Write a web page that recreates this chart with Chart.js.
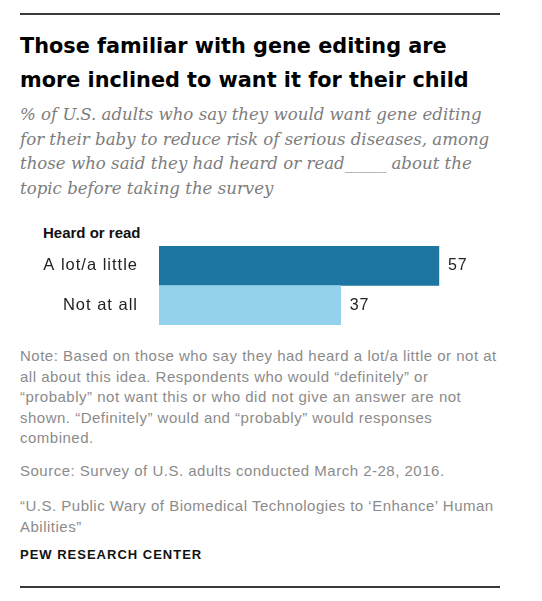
<!DOCTYPE html>
<html>
<head>
<meta charset="utf-8">
<script src="https://cdn.jsdelivr.net/npm/chart.js@4"></script>
<style>
  body { margin: 0; width: 542px; height: 601px; background: #fff; position: relative; overflow: hidden; }
  .rule { position: absolute; left: 20px; width: 480px; height: 0; border-top: 2px solid #3a3a3a; }
  .txt { position: absolute; left: 20px; white-space: nowrap; }
  #title { top: 29px; font: bold 20.8px "DejaVu Sans", sans-serif; line-height: 34px; color: #000; }
  #sub { top: 103px; font: italic 16.6px "DejaVu Serif", serif; line-height: 24.7px; color: #7d7d7d; }
  #head { left: 43px; top: 224px; font: bold 15px "Liberation Sans", sans-serif; color: #111; }
  #chartbox { position: absolute; left: 0; top: 246px; width: 542px; height: 79px; }
  .note { font: 15px "Liberation Sans", sans-serif; letter-spacing: 0.5px; color: #8b8b8b; }
  #notes { top: 346px; line-height: 20.5px; }
  #src { top: 462px; }
  #quote { top: 496px; line-height: 20.5px; }
  #pew { top: 547px; font: bold 13px "Liberation Sans", sans-serif; letter-spacing: 1px; color: #111; }
</style>
</head>
<body>
<div class="rule" style="top:13px"></div>
<div class="txt" id="title">Those familiar with gene editing are<br>more inclined to want it for their child</div>
<div class="txt" id="sub">% of U.S. adults who say they would want gene editing<br>for their baby to reduce risk of serious diseases, among<br>those who said they had heard or read_____ about the<br>topic before taking the survey</div>
<div class="txt" id="head">Heard or read</div>
<div id="chartbox"><canvas id="chart"></canvas></div>
<div class="txt note" id="notes">Note: Based on those who say they had heard a lot/a little or not at<br>all about this idea. Respondents who would “definitely” or<br>“probably” not want this or who did not give an answer are not<br>shown. “Definitely” would and “probably” would responses<br>combined.</div>
<div class="txt note" id="src">Source: Survey of U.S. adults conducted March 2-28, 2016.</div>
<div class="txt note" id="quote">“U.S. Public Wary of Biomedical Technologies to ‘Enhance’ Human<br>Abilities”</div>
<div class="txt" id="pew">PEW RESEARCH CENTER</div>
<div class="rule" style="top:586px"></div>

<script>
const categories = ["A lot/a little", "Not at all"];
const values = [57, 37];
const barColors = ["#1c76a1", "#93d1ec"];

// category names and values drawn next to the bars
const barText = {
  id: "barText",
  afterDatasetsDraw: (chart) => {
    const ctx = chart.ctx;
    const yScale = chart.scales.y;
    ctx.save();
    ctx.font = "16.5px 'Liberation Sans', sans-serif";
    ctx.letterSpacing = "1px";
    ctx.fillStyle = "#222";
    ctx.textBaseline = "middle";
    categories.forEach((name, i) => {
      ctx.textAlign = "right";
      ctx.fillText(name, chart.chartArea.left - 21, yScale.getPixelForValue(i));
    });
    ctx.font = "16px 'Liberation Sans', sans-serif";
    ctx.textAlign = "left";
    chart.getDatasetMeta(0).data.forEach((bar, i) => {
      ctx.fillText(values[i], bar.x + 9, bar.y);
    });
    ctx.restore();
  },
};

const ctx = document.getElementById("chart").getContext("2d");
new Chart(ctx, {
  type: "bar",
  data: {
    labels: categories,
    datasets: [{ data: values, backgroundColor: barColors, barPercentage: 1, categoryPercentage: 1 }],
  },
  options: {
    indexAxis: "y",
    responsive: true,
    maintainAspectRatio: false,
    animation: false,
    layout: { padding: { left: 159, right: 0, top: 0, bottom: 0 } },
    plugins: { legend: { display: false }, tooltip: { enabled: false } },
    scales: {
      x: { display: false, min: 0, max: 78 },
      y: { display: false },
    },
  },
  plugins: [barText],
});
</script>
</body>
</html>
